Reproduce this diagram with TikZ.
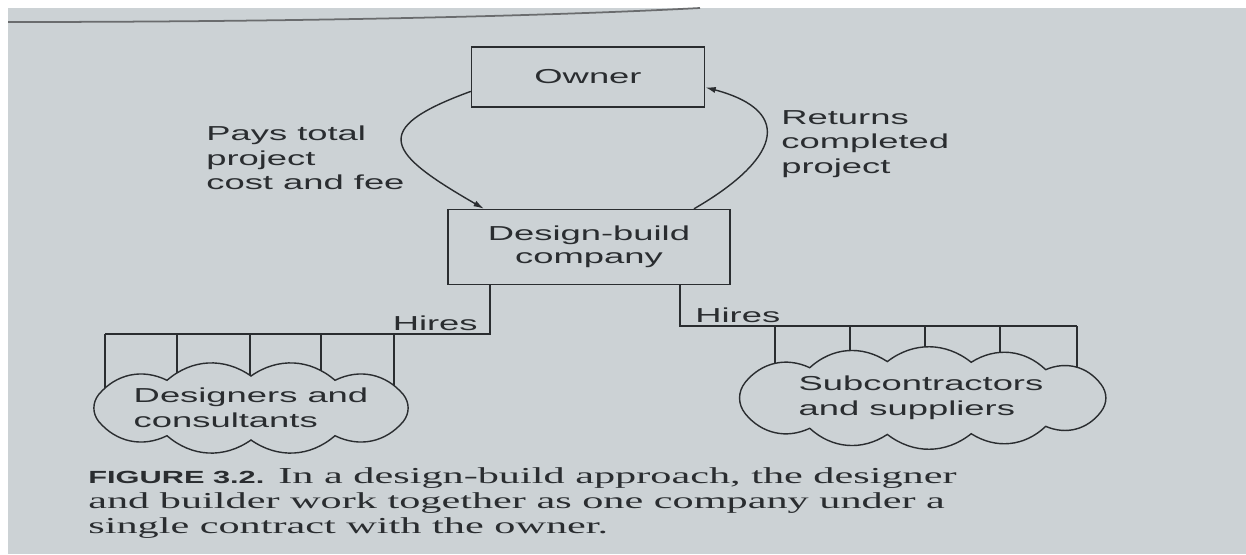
\documentclass[tikz,border=0pt]{standalone}
\usepackage{fontspec}
\newfontfamily\diafont[FakeStretch=1.8]{Liberation Sans}
\newfontfamily\capfont[FakeStretch=1.85]{Liberation Serif}
\newfontfamily\figfont[FakeStretch=1.75]{Liberation Sans}
\usetikzlibrary{arrows.meta,backgrounds,calc}
\definecolor{paper}{RGB}{204,210,213}
\definecolor{ink}{RGB}{42,45,48}

\tikzset{
    box/.style={draw=ink,line width=0.8pt,inner sep=0pt,align=center,
        font=\diafont\fontsize{11.5}{13}\selectfont,text=ink},
    note/.style={align=left,inner sep=0pt,
        font=\diafont\fontsize{11.5}{14}\selectfont,text=ink},
    link/.style={draw=ink,line width=0.8pt},
    puff/.style={link,fill=paper},
    pay/.style={link,-{Latex[length=6pt,width=3.5pt]}}
}

\begin{document}
\begin{tikzpicture}[x=0.02cm,y=-0.02cm]
    \useasboundingbox (0,0) rectangle (1246,554);
    \begin{scope}[on background layer]
        \fill[white] (0,0) rectangle (1246,554);
        \fill[paper] (8,8) rectangle (1246,554);
    \end{scope}
    \draw[ink!70,line width=1pt] (8,22) .. controls (300,22) and (550,16) .. (700,8);

    \node[box,minimum width=4.66cm,minimum height=1.2cm] (own) at (588,77) {Owner};
    \node[box,minimum width=5.64cm,minimum height=1.5cm] (db) at (589,247) {Design-build\\company};

    \draw[pay] (own.187) to[out=200,in=150,looseness=2.4] (db.160);
    \draw[pay] (db.20) to[out=30,in=-15,looseness=2] (own.355);

    \node[note,anchor=west] (pays) at (206,158) {Pays total\\project\\cost and fee};
    \node[note,anchor=west] (ret) at (781,144) {Returns\\completed\\project};

    \coordinate (dcc) at (251,408);
    \coordinate (scc) at (921,398);
    \draw[puff] ($(dcc)+({168*cos(335)},{32*sin(335)})$)
        foreach \p in {25,60,90,120,155,205,240,270,300,335}{
                to[bend left=38] ($(dcc)+({168*cos(\p)},{32*sin(\p)})$)
            } -- cycle;
    \draw[puff] ($(scc)+({194*cos(338)},{37*sin(338)})$)
        foreach \p in {22,50,75,100,125,155,205,235,260,285,310,338}{
                to[bend left=38] ($(scc)+({194*cos(\p)},{37*sin(\p)})$)
            } -- cycle;
    \node[note] (dc) at (dcc) {Designers and\\consultants};
    \node[note] (sc) at (scc) {Subcontractors\\and suppliers};

    \coordinate (lknee) at (490,334);
    \coordinate (lbar) at (105,334);
    \coordinate (rknee) at (680,326);
    \coordinate (rbar) at (1077,326);

    \draw[link] (lknee |- db.south) -- (lknee) -- (lbar);
    \draw[link] (rknee |- db.south) -- (rknee) -- (rbar);
    \node[note,anchor=south east] (lhire) at ([shift={(-12,-3)}]lknee) {Hires};
    \node[note,anchor=south west] (rhire) at ([shift={(15,-3)}]rknee) {Hires};

    \begin{scope}[on background layer]
        \foreach \x in {105,177,250,321,394}{
                \draw[link] (\x,334) -- (\x,334 |- dc.center);
            }
        \foreach \x in {775,850,925,1000,1077}{
                \draw[link] (\x,326) -- (\x,326 |- sc.center);
            }
    \end{scope}

    \node[anchor=west,align=left,inner sep=0pt,text=ink,
        font=\capfont\fontsize{13}{14.3}\selectfont] (cap) at (88,503)
        {{\figfont\bfseries\fontsize{10}{14.3}\selectfont FIGURE 3.2.} In a design-build approach, the designer\\
        and builder work together as one company under a\\
        single contract with the owner.};
\end{tikzpicture}
\end{document}
